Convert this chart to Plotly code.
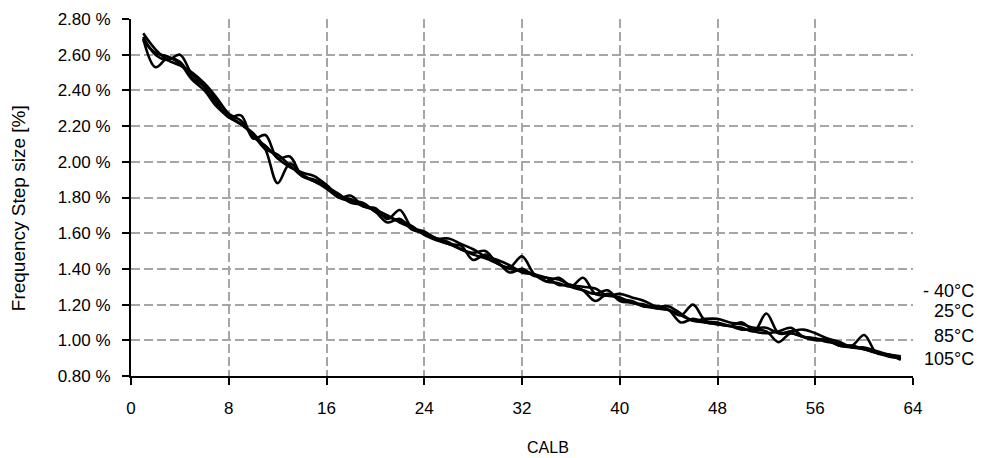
import plotly.graph_objects as go

calb = list(range(1, 64))

s_m40 = [2.72, 2.63, 2.57, 2.54, 2.50, 2.44, 2.36, 2.27, 2.23, 2.14, 2.09, 2.02, 1.97, 1.94, 1.92, 1.87,
         1.81, 1.79, 1.75, 1.73, 1.70, 1.66, 1.63, 1.60, 1.57, 1.57, 1.54, 1.51, 1.47, 1.45, 1.42, 1.38,
         1.37, 1.35, 1.34, 1.31, 1.30, 1.29, 1.25, 1.26, 1.24, 1.22, 1.19, 1.19, 1.15, 1.11, 1.12, 1.12,
         1.10, 1.09, 1.07, 1.07, 1.04, 1.05, 1.06, 1.04, 1.01, 0.99, 0.96, 0.96, 0.94, 0.92, 0.91]
s_25 = [2.69, 2.53, 2.58, 2.56, 2.47, 2.42, 2.32, 2.26, 2.21, 2.16, 2.07, 1.88, 1.99, 1.93, 1.89, 1.86,
        1.82, 1.77, 1.76, 1.72, 1.66, 1.68, 1.62, 1.60, 1.57, 1.54, 1.53, 1.45, 1.48, 1.44, 1.38, 1.40,
        1.36, 1.35, 1.31, 1.31, 1.28, 1.22, 1.26, 1.23, 1.22, 1.19, 1.19, 1.17, 1.10, 1.12, 1.10, 1.09,
        1.08, 1.06, 1.06, 1.05, 0.99, 1.04, 1.02, 1.01, 1.00, 0.97, 0.97, 0.95, 0.93, 0.92, 0.89]
s_85 = [2.70, 2.60, 2.57, 2.60, 2.49, 2.43, 2.34, 2.25, 2.26, 2.13, 2.15, 2.02, 2.03, 1.92, 1.90, 1.87,
        1.80, 1.81, 1.75, 1.74, 1.68, 1.73, 1.63, 1.61, 1.57, 1.55, 1.51, 1.49, 1.50, 1.43, 1.41, 1.47,
        1.37, 1.33, 1.32, 1.30, 1.35, 1.26, 1.25, 1.24, 1.21, 1.20, 1.18, 1.17, 1.14, 1.20, 1.11, 1.10,
        1.08, 1.07, 1.05, 1.15, 1.04, 1.04, 1.02, 1.01, 0.99, 0.98, 0.97, 1.03, 0.93, 0.92, 0.90]
s_105 = [2.68, 2.61, 2.59, 2.55, 2.46, 2.40, 2.31, 2.25, 2.21, 2.15, 2.07, 2.04, 1.98, 1.92, 1.89, 1.85,
         1.80, 1.78, 1.77, 1.72, 1.69, 1.67, 1.64, 1.59, 1.56, 1.54, 1.51, 1.48, 1.46, 1.43, 1.40, 1.39,
         1.37, 1.33, 1.35, 1.30, 1.28, 1.26, 1.28, 1.22, 1.21, 1.19, 1.18, 1.17, 1.14, 1.11, 1.10, 1.09,
         1.08, 1.10, 1.05, 1.04, 1.05, 1.07, 1.02, 1.00, 1.00, 0.97, 0.96, 0.95, 0.93, 0.91, 0.90]

series_names = ["- 40°C", "25°C", "85°C", "105°C"]
series_values = [s_m40, s_25, s_85, s_105]

y_tick_vals = [0.8, 1.0, 1.2, 1.4, 1.6, 1.8, 2.0, 2.2, 2.4, 2.6, 2.8]
y_tick_text = ["0.80 %", "1.00 %", "1.20 %", "1.40 %", "1.60 %", "1.80 %", "2.00 %", "2.20 %",
               "2.40 %", "2.60 %", "2.80 %"]
x_tick_vals = [0, 8, 16, 24, 32, 40, 48, 56, 64]

x_title = "CALB"
y_title = "Frequency Step size [%]"

label_y = [0.238, 0.182, 0.112, 0.048]

FONT = "Liberation Sans, Arial, sans-serif"

fig = go.Figure()
for name, vals in zip(series_names, series_values):
    fig.add_trace(go.Scatter(x=calb, y=vals, mode="lines", name=name,
                             line=dict(color="black", width=2.6, shape="spline", smoothing=1.0)))

for name, ly in zip(series_names, label_y):
    fig.add_annotation(x=1.0806, y=ly, xref="paper", yref="paper", text=name, showarrow=False,
                       xanchor="right", yanchor="middle", font=dict(size=18, color="black", family=FONT))

# axis titles placed as in the reference
fig.add_annotation(x=0.533, y=-0.199, xref="paper", yref="paper", text=x_title, showarrow=False,
                   xanchor="center", yanchor="middle", font=dict(size=16, color="black", family=FONT))
fig.add_annotation(x=-0.1445, y=0.47, xref="paper", yref="paper", text=y_title, showarrow=False,
                   textangle=-90, xanchor="center", yanchor="middle",
                   font=dict(size=19, color="black", family=FONT))

grid = dict(showgrid=True, gridcolor="#A6A6A6", gridwidth=2, griddash="9px,4px")

fig.update_xaxes(range=[0, 64], tickvals=x_tick_vals, ticks="outside", ticklen=7, tickwidth=2,
                 tickcolor="black", showline=True, linecolor="black", linewidth=2, zeroline=False,
                 automargin=False, ticklabelstandoff=9,
                 tickfont=dict(size=17, color="black", family=FONT), **grid)
fig.update_yaxes(range=[0.8, 2.8], tickvals=y_tick_vals, ticktext=y_tick_text, ticks="outside",
                 ticklen=7, tickwidth=2, tickcolor="black", showline=True, linecolor="black",
                 linewidth=2, zeroline=False, automargin=False, ticklabelstandoff=8,
                 tickfont=dict(size=17, color="black", family=FONT), **grid)

fig.update_layout(width=981, height=458, margin=dict(l=131, r=68, t=19, b=82),
                  plot_bgcolor="white", paper_bgcolor="white", showlegend=False,
                  font=dict(family=FONT, color="black"))

fig.write_html("out.html", config={"displayModeBar": False},
               post_script="document.body.style.margin='0';")
